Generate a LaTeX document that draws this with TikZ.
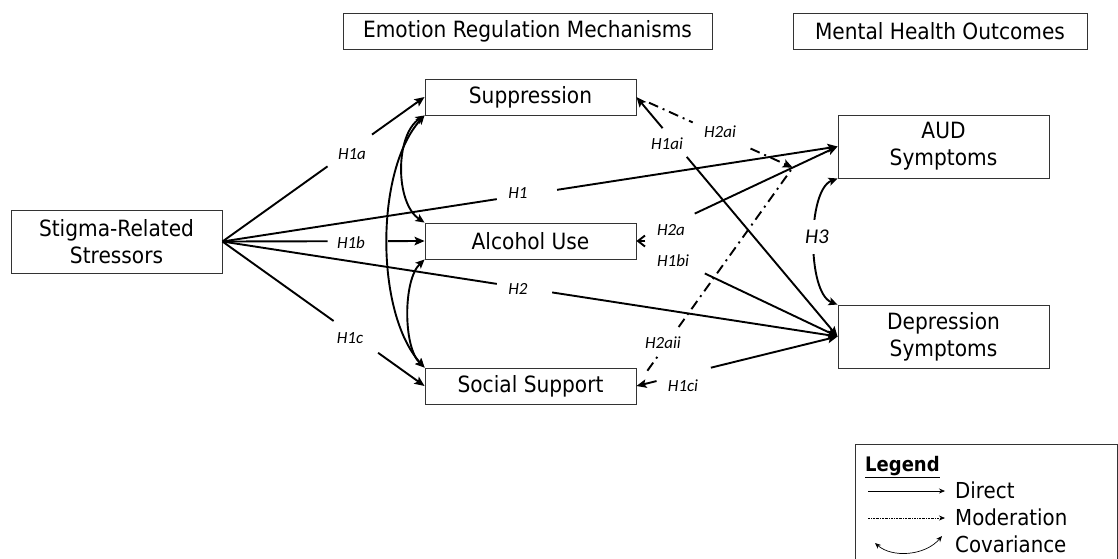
\documentclass[tikz,border=0pt]{standalone}
\usepackage{fontspec}
\setmainfont[FakeStretch=0.9]{DejaVu Sans}
\newfontfamily\hypfont{Carlito}
\usetikzlibrary{arrows.meta,calc}

\begin{document}
\begin{tikzpicture}[x=1pt,y=-1pt,
  box/.style={draw=black!80, line width=0.9pt, inner sep=0pt, align=center,
              font=\fontsize{22.4}{27}\selectfont},
  conn/.style={line width=1.9pt},
  arr/.style={conn, -{Stealth[length=10pt,width=8.5pt,inset=2pt]}},
  rarr/.style={conn, {Stealth[length=10pt,width=8.5pt,inset=2pt]}-},
  covar/.style={conn, {Stealth[length=9pt,width=8pt,inset=2pt]}-{Stealth[length=9pt,width=8pt,inset=2pt]}},
  modline/.style={line width=1.9pt, dash pattern=on 10pt off 5pt on 2pt off 5pt},
  hyp/.style={font=\hypfont\itshape\fontsize{17}{19}\selectfont, inner sep=1pt},
  legtxt/.style={font=\fontsize{22}{26}\selectfont, inner sep=0pt, anchor=base west},
  legarr/.style={line width=0.7pt, -{Stealth[length=6pt,width=5pt]}}
]
\useasboundingbox (0,0) rectangle (1118,558);

% column headings
\node[box, minimum width=369pt, minimum height=36pt] (erm) at (527.5,31) {Emotion Regulation Mechanisms};
\node[box, minimum width=294pt, minimum height=36pt] (mho) at (940,31) {Mental Health Outcomes};

% variables
\node[box, minimum width=211pt, minimum height=63pt] (st)  at (116.5,241.5) {Stigma-Related\\Stressors};
\node[box, minimum width=211pt, minimum height=36pt] (sup) at (530.5,97) {Suppression};
\node[box, minimum width=211pt, minimum height=36pt] (alc) at (530.5,241) {Alcohol Use};
\node[box, minimum width=211pt, minimum height=36pt] (soc) at (530.5,386) {Social Support};
\node[box, minimum width=211pt, minimum height=63pt] (aud) at (943.5,146.5) {AUD\\Symptoms};
\node[box, minimum width=211pt, minimum height=63pt] (dep) at (943.5,336.5) {Depression\\Symptoms};

% point on the H2a path targeted by the moderation arrows
\coordinate (mod) at ($(alc.east)!0.777!(aud.west)$);

% stressors -> mediators
\draw[conn] (st.east) -- ($(st.east)!0.52!(sup.west)$);
\draw[arr]  ($(st.east)!0.74!(sup.west)$) -- (sup.west);
\node[hyp] (lh1a) at (352,154) {H1a};

\draw[conn] (st.east) -- ($(st.east)!0.52!(alc.west)$);
\draw[arr]  ($(st.east)!0.82!(alc.west)$) -- (alc.west);
\node[hyp] (lh1b) at (351,243) {H1b};

\draw[conn] (st.east) -- ($(st.east)!0.55!(soc.west)$);
\draw[arr]  ($(st.east)!0.77!(soc.west)$) -- (soc.west);
\node[hyp] (lh1c) at (350,338) {H1c};

% stressors -> outcomes
\draw[conn] (st.east) -- ($(st.east)!0.446!(aud.west)$);
\draw[arr]  ($(st.east)!0.544!(aud.west)$) -- (aud.west);
\node[hyp] (lh1) at (518,193) {H1};

\draw[conn] (st.east) -- ($(st.east)!0.446!(dep.west)$);
\draw[arr]  ($(st.east)!0.536!(dep.west)$) -- (dep.west);
\node[hyp] (lh2) at (518,289) {H2};

% mediators <-> outcomes
\draw[rarr] (sup.east) -- ($(sup.east)!0.13!(dep.west)$);
\draw[arr]  ($(sup.east)!0.25!(dep.west)$) -- (dep.west);
\node[hyp] (lh1ai) at (667,144) {H1ai};

\coordinate (chev) at ($(alc.east)+(9,0)$);
\draw[conn, -{Straight Barb[length=7pt,width=11pt]}] (chev) -- (alc.east);
\draw[arr]  ($(alc.east)!0.29!(aud.west)$) -- (aud.west);
\node[hyp] (lh2a) at (671,230) {H2a};
\draw[arr]  ($(alc.east)!0.34!(dep.west)$) -- (dep.west);
\node[hyp] (lh1bi) at (673,261) {H1bi};

\draw[rarr] (soc.east) -- ($(soc.east)!0.10!(dep.west)$);
\draw[arr]  ($(soc.east)!0.37!(dep.west)$) -- (dep.west);
\node[hyp] (lh1ci) at (683,386) {H1ci};

% moderation paths
\draw[modline] ($(sup.east)!0.08!(mod)$) -- ($(sup.east)!0.36!(mod)$);
\draw[modline, -{Stealth[length=10pt,width=8.5pt,inset=2pt]}] ($(sup.east)!0.73!(mod)$) -- (mod);
\node[hyp] (lh2ai) at (720,132) {H2ai};

\draw[modline] ($(soc.east)!0.07!(mod)$) -- ($(soc.east)!0.134!(mod)$);
\draw[modline] ($(soc.east)!0.27!(mod)$) -- (mod);
\node[hyp] (lh2aii) at (663,343) {H2aii};

% covariances among mediators
\draw[covar] (sup.south west) .. controls (375,170) and (375,313) .. (soc.north west);
\draw[covar] (sup.south west) .. controls (395,135) and (395,203) .. (alc.north west);
\draw[covar] (alc.south west) .. controls (403,280) and (403,347) .. (soc.north west);

% covariance between outcomes
\draw[covar] (aud.south west) .. controls (807,190) and (807,293) .. (dep.north west);
\node[font=\hypfont\itshape\fontsize{21}{24}\selectfont, fill=white, inner xsep=2pt, inner ysep=10pt] (lh3) at (817,237) {H3};

% legend
\node[draw=black!80, line width=0.9pt, minimum width=262pt, minimum height=130pt, anchor=north west, inner sep=0pt] (legend) at (855,444) {};
\node[legtxt, font=\bfseries\fontsize{20}{24}\selectfont] (legtitle) at (865,471) {\underline{Legend}};
\coordinate (d1) at (868,491); \coordinate (d2) at (945,491);
\draw[legarr] (d1) -- (d2);
\node[legtxt] (ldirect) at (955,498) {Direct};
\coordinate (m1) at (868,518); \coordinate (m2) at (945,518);
\draw[legarr, dash pattern=on 2pt off 1pt on 0.6pt off 1pt] (m1) -- (m2);
\node[legtxt] (lmod) at (955,525) {Moderation};
\coordinate (c1) at (875,543); \coordinate (c2) at (942,536);
\draw[line width=0.7pt, {Stealth[length=6pt,width=5pt]}-{Stealth[length=6pt,width=5pt]}] (c1) .. controls (892,558) and (925,556) .. (c2);
\node[legtxt] (lcov) at (955,552) {Covariance};
\end{tikzpicture}
\end{document}
